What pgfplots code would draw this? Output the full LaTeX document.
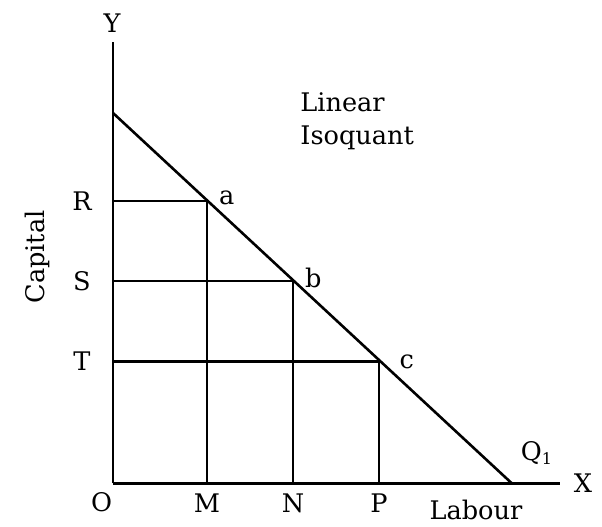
\documentclass[border=0pt]{standalone}
\usepackage{fontspec}
\setmainfont{DejaVu Serif}
\usepackage{pgfplots}
\pgfplotsset{compat=1.18}
\begin{document}
\begin{tikzpicture}[font=\fontsize{12.8}{16.5}\selectfont]
\begin{axis}[
  scale only axis, width=223.5pt, height=220.75pt,
  xmin=0, xmax=44.7, ymin=0, ymax=44.15,
  axis lines=left, axis line style={-, line width=1.3pt, black},
  xtick={9.4,18.0,26.6}, xticklabels={M,N,P},
  ytick={12.2,20.25,28.25}, yticklabels={T,S,R},
  major tick length=0pt,
  xticklabel style={anchor=center, yshift=-9.75pt, inner sep=0pt},
  yticklabel style={anchor=center, xshift=-15.5pt, inner sep=0pt},
  clip=false,
]
% linear isoquant Q1
\addplot[black, line width=1.3pt] coordinates {(0,37.05) (39.9,0)};
% combinations a, b, c
\addplot[black, line width=1.3pt] coordinates {(0,28.25) (9.4,28.25) (9.4,0)};
\addplot[black, line width=1.3pt] coordinates {(0,20.25) (18.0,20.25) (18.0,0)};
\addplot[black, line width=1.3pt] coordinates {(0,12.2) (26.6,12.2) (26.6,0)};
% labels
\node at (axis cs:-0.1,46.05) {Y};
\node at (axis cs:47.0,0.05) {X};
\node at (axis cs:-1.13,-1.85) {O};
\node at (axis cs:11.37,28.55) {a};
\node at (axis cs:20.03,20.55) {b};
\node at (axis cs:29.37,12.18) {c};
\node at (axis cs:36.3,-2.65) {Labour};
\node at (axis cs:42.4,3.05) {Q\textsubscript{\fontsize{8}{9}\selectfont 1}};
\node[rotate=90] at (axis cs:-7.6,22.65) {Capital};
\node[anchor=west, align=left, inner sep=0pt] at (axis cs:18.7,36.2) {Linear\\Isoquant};
\path (axis cs:-11.3,-3.85) rectangle (axis cs:48.9,48.35);
\end{axis}
\end{tikzpicture}
\end{document}
